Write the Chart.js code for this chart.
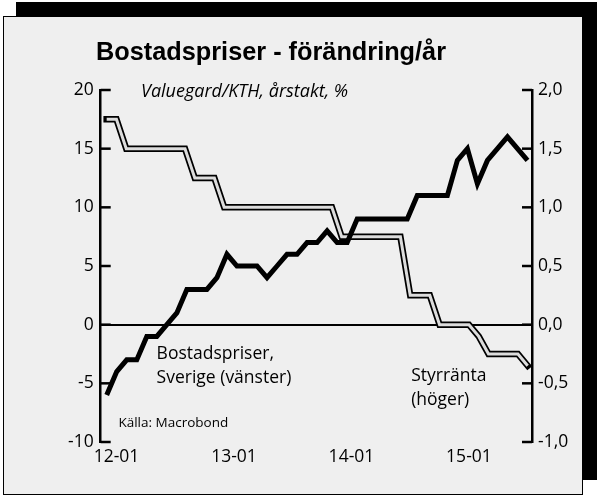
<!DOCTYPE html>
<html>
<head>
<meta charset="utf-8">
<script src="https://cdn.jsdelivr.net/npm/chart.js@4.4.1/dist/chart.umd.min.js"></script>
<style>
  html, body { margin: 0; padding: 0; background: #fff; }
  #shadow { position: absolute; left: 16px; top: 2px; width: 581px; height: 478px; background: #000; }
  #panel { position: absolute; left: 3px; top: 16px; width: 580px; height: 479px; box-sizing: border-box; border: 1.5px solid #000; background: #efefef; }
  #chart { position: absolute; left: 0; top: 0; }
</style>
</head>
<body>
<div id="shadow"></div>
<div id="panel"></div>
<canvas id="chart" width="600" height="499"></canvas>
<script>
const title = "Bostadspriser - förändring/år"
const subtitle = "Valuegard/KTH, årstakt, %"
const source = "Källa: Macrobond"

// monthly, repo rate runs 11-12 .. 15-07
const rateMonths = [
  "11-12",
  "12-01", "12-02", "12-03", "12-04", "12-05", "12-06", "12-07", "12-08", "12-09", "12-10", "12-11", "12-12",
  "13-01", "13-02", "13-03", "13-04", "13-05", "13-06", "13-07", "13-08", "13-09", "13-10", "13-11", "13-12",
  "14-01", "14-02", "14-03", "14-04", "14-05", "14-06", "14-07", "14-08", "14-09", "14-10", "14-11", "14-12",
  "15-01", "15-02", "15-03", "15-04", "15-05", "15-06", "15-07"
]
const repoRate = [
  1.75,
  1.75, 1.5, 1.5, 1.5, 1.5, 1.5, 1.5, 1.5, 1.25, 1.25, 1.25, 1.0,
  1.0, 1.0, 1.0, 1.0, 1.0, 1.0, 1.0, 1.0, 1.0, 1.0, 1.0, 0.75,
  0.75, 0.75, 0.75, 0.75, 0.75, 0.75, 0.25, 0.25, 0.25, 0.0, 0.0, 0.0,
  0.0, -0.1, -0.25, -0.25, -0.25, -0.25, -0.35
]

// house prices, 43 monthly points over the same span
const housePrices = [
  -6, -4, -3, -3, -1, -1, 0, 1, 3, 3, 3, 4,
  6, 5, 5, 5, 4, 5, 6, 6, 7, 7, 8, 7,
  7, 9, 9, 9, 9, 9, 9, 11, 11, 11, 11, 14,
  15, 12, 14, 15, 16, 15, 14
]

const xTickLabels = ["12-01", "13-01", "14-01", "15-01"]
const leftTicks = [-10, -5, 0, 5, 10, 15, 20]
const rightTicks = [-1, -0.5, 0, 0.5, 1, 1.5, 2]

// in-chart notes, placed in data units: [text, x (rate months), y (left axis), size]
const notes = [
  ["Bostadspriser,", 5.1, -2.95, 17.5],
  ["Sverige (vänster)", 5.1, -5.0, 17.5],
  ["Styrränta", 31.1, -4.8, 17.5],
  ["(höger)", 31.1, -6.85, 17.5],
  [source, 1.2, -8.7, 13.5]
]

Chart.defaults.font.family = "'Open Sans', sans-serif"
Chart.defaults.color = "#000"

const decor = {
  id: "decor",
  afterDraw(chart) {
    const ctx = chart.ctx
    const area = chart.chartArea
    const y = chart.scales.y
    const y1 = chart.scales.y1
    const x = chart.scales.x

    ctx.save()
    ctx.strokeStyle = "#000"
    ctx.lineWidth = 2.5
    ctx.lineCap = "butt"
    leftTicks.forEach(v => {
      const py = y.getPixelForValue(v)
      ctx.beginPath()
      ctx.moveTo(area.left, py)
      ctx.lineTo(area.left + 10, py)
      ctx.stroke()
    })
    rightTicks.forEach(v => {
      const py = y1.getPixelForValue(v)
      ctx.beginPath()
      ctx.moveTo(area.right - 10, py)
      ctx.lineTo(area.right, py)
      ctx.stroke()
    })

    ctx.fillStyle = "#000"
    ctx.textBaseline = "alphabetic"
    ctx.textAlign = "center"
    ctx.font = "bold 25.3px 'Liberation Sans', Arial, sans-serif"
    ctx.fillText(title, 271, 60)

    ctx.textAlign = "left"
    ctx.font = "italic 18px 'Open Sans', sans-serif"
    ctx.fillText(subtitle, 141, 97)

    notes.forEach(([text, nx, ny, size]) => {
      ctx.font = `${size}px 'Open Sans', sans-serif`
      ctx.fillText(text, x.getPixelForValue(nx), y.getPixelForValue(ny))
    })
    ctx.restore()
  }
}

new Chart("chart", {
  type: "line",
  data: {
    datasets: [
      {
        label: "Bostadspriser, Sverige (vänster)",
        data: housePrices.map((v, i) => ({ x: i, y: v })),
        xAxisID: "x2",
        yAxisID: "y",
        borderColor: "#000",
        borderWidth: 5,
        borderJoinStyle: "miter",
        pointRadius: 0,
        tension: 0,
        order: 0
      },
      {
        label: "Styrränta (höger)",
        data: repoRate.map((v, i) => ({ x: i, y: v })),
        xAxisID: "x",
        yAxisID: "y1",
        borderColor: "#dcdcdc",
        borderWidth: 3,
        borderJoinStyle: "miter",
        pointRadius: 0,
        tension: 0,
        order: 1
      },
      {
        label: "Styrränta outline",
        data: repoRate.map((v, i) => ({ x: i, y: v })),
        xAxisID: "x",
        yAxisID: "y1",
        borderColor: "#000",
        borderWidth: 6.5,
        borderJoinStyle: "miter",
        borderCapStyle: "square",
        pointRadius: 0,
        tension: 0,
        clip: false,
        order: 2
      }
    ]
  },
  options: {
    responsive: false,
    animation: false,
    devicePixelRatio: 1,
    layout: {
      padding: { left: 0, right: 0, top: 90, bottom: 0 }
    },
    plugins: {
      legend: { display: false },
      tooltip: { enabled: false }
    },
    scales: {
      x: {
        type: "linear",
        position: "bottom",
        min: -0.61,
        max: 43.44,
        afterBuildTicks: (scale) => {
          scale.ticks = xTickLabels.map(l => ({ value: rateMonths.indexOf(l) }))
        },
        afterFit: (scale) => { scale.height = 57 },
        ticks: {
          font: { size: 17.5 },
          padding: 5,
          maxRotation: 0,
          autoSkip: false,
          callback: (v) => rateMonths[v]
        },
        grid: { display: false, drawTicks: false },
        border: { display: false }
      },
      x2: {
        type: "linear",
        display: false,
        min: -0.6,
        max: 42.45
      },
      y: {
        position: "left",
        min: -10,
        max: 20,
        afterFit: (scale) => { scale.width = 100.7 },
        ticks: {
          stepSize: 5,
          font: { size: 17.5 },
          padding: 7
        },
        grid: {
          drawTicks: false,
          lineWidth: 2,
          color: (c) => c.tick && c.tick.value === 0 ? "#000" : "rgba(0,0,0,0)"
        },
        border: { display: true, color: "#000", width: 2.5 }
      },
      y1: {
        position: "right",
        min: -1,
        max: 2,
        afterFit: (scale) => { scale.width = 68 },
        ticks: {
          stepSize: 0.5,
          font: { size: 17.5 },
          padding: 6,
          callback: (v) => v.toFixed(1).replace(".", ",")
        },
        grid: { display: false, drawTicks: false },
        border: { display: true, color: "#000", width: 2.5 }
      }
    }
  },
  plugins: [decor]
})
</script>
</body>
</html>
